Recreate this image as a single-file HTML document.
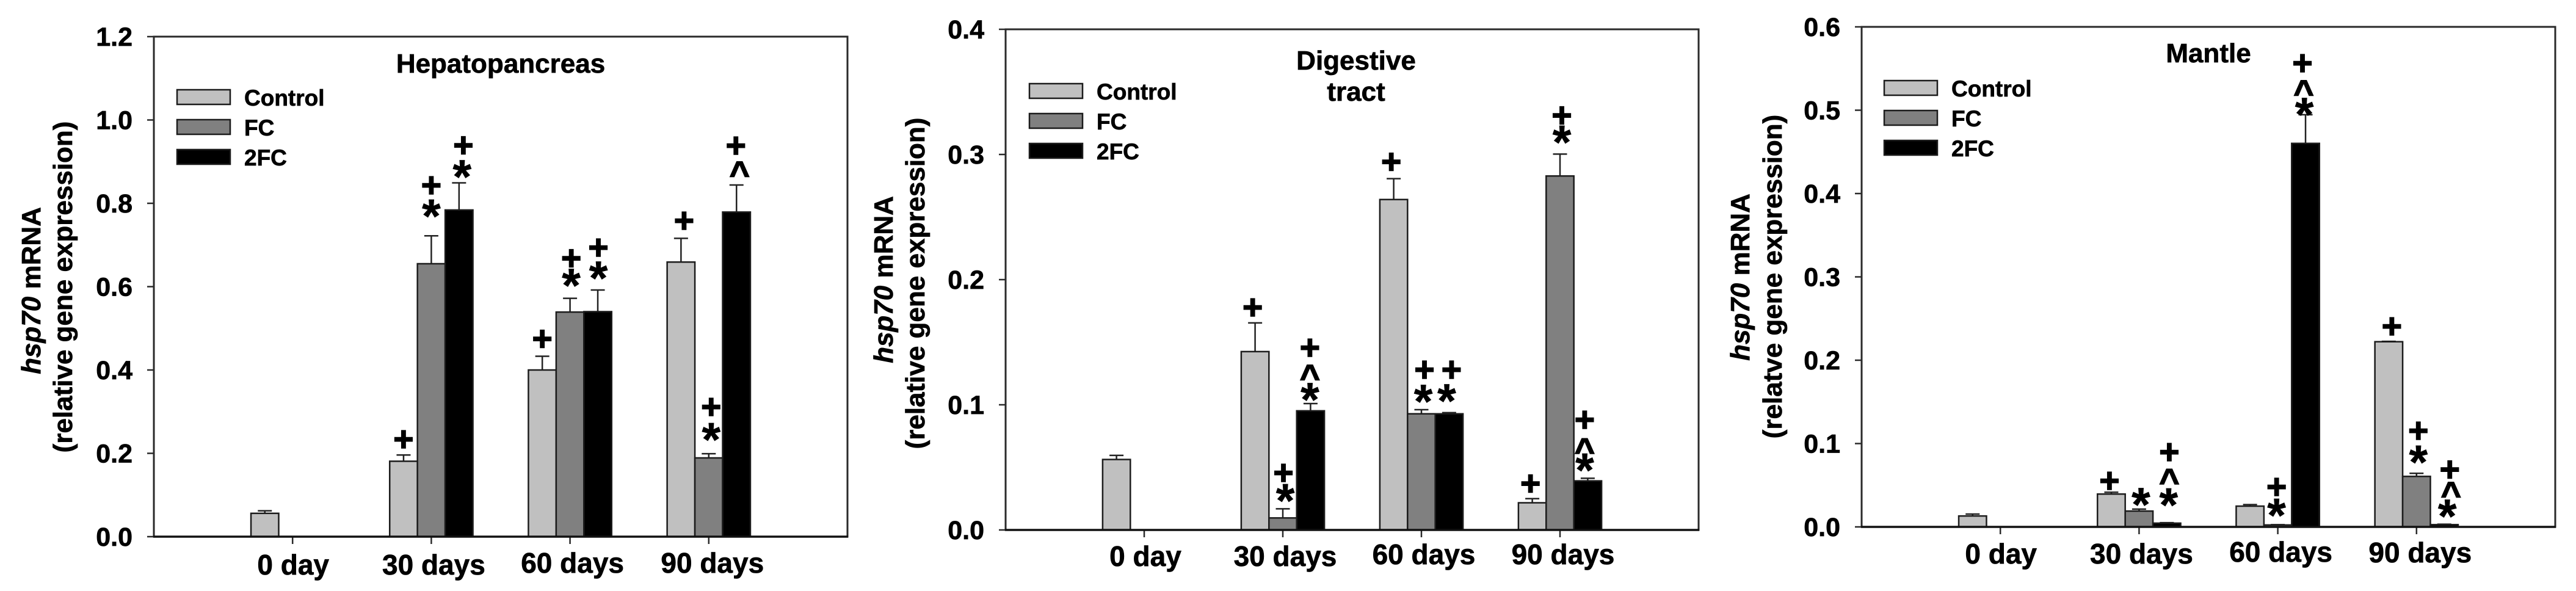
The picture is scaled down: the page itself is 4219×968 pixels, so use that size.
<!DOCTYPE html>
<html lang="en">
<head>
<meta charset="utf-8">
<title>hsp70 mRNA relative gene expression</title>
<style>
html,body{margin:0;padding:0;background:#fff;width:4219px;height:968px;overflow:hidden}
svg{display:block}
text{font-family:"Liberation Sans",Arial,sans-serif;font-weight:700;fill:#000;stroke:#000;stroke-width:0.7px}
</style>
</head>
<body>
<svg id="figure" xmlns="http://www.w3.org/2000/svg" width="4219" height="968" viewBox="0 0 4219 968"></svg>
<script>
const categories = ['0 day', '30 days', '60 days', '90 days'];
const seriesNames = ['Control', 'FC', '2FC'];

const hepatoTicks = ['0.0', '0.2', '0.4', '0.6', '0.8', '1.0', '1.2'];
const hepatoControl = [0.056, 0.181, 0.400, 0.659];
const hepatoFC = [null, 0.655, 0.539, 0.189];
const hepato2FC = [null, 0.784, 0.540, 0.779];
const hepatoControlErr = [0.006, 0.015, 0.033, 0.057];
const hepatoFCErr = [null, 0.067, 0.033, 0.010];
const hepato2FCErr = [null, 0.065, 0.052, 0.065];

const digestiveTicks = ['0.0', '0.1', '0.2', '0.3', '0.4'];
const digestiveControl = [0.0563, 0.1425, 0.264, 0.0217];
const digestiveFC = [null, 0.0096, 0.0928, 0.2828];
const digestive2FC = [null, 0.0952, 0.0928, 0.0392];
const digestiveControlErr = [0.0033, 0.0229, 0.0167, 0.0033];
const digestiveFCErr = [null, 0.0073, 0.0033, 0.0175];
const digestive2FCErr = [null, 0.0058, 0.0009, 0.0021];

const mantleTicks = ['0.0', '0.1', '0.2', '0.3', '0.4', '0.5', '0.6'];
const mantleControl = [0.0131, 0.0394, 0.0249, 0.2222];
const mantleFC = [null, 0.019, 0.0023, 0.0606];
const mantle2FC = [null, 0.0045, 0.4602, 0.0027];
const mantleControlErr = [0.0023, 0.0022, 0.0018, 0.0004];
const mantleFCErr = [null, 0.0023, 0.0004, 0.0037];
const mantle2FCErr = [null, 0.0005, 0.0344, 0.0005];

/* significance symbols: category, series, symbol, nudge right, lift above the error cap */
const hepatoMarks = [
  [1,0,'+',0,26],[1,1,'+',0,83],[1,1,'*',0,44],[1,2,'+',7,62],[1,2,'*',5,22],
  [2,0,'+',0,29],[2,1,'+',2,66],[2,1,'*',2,33],[2,2,'+',1,70],[2,2,'*',1,31],
  [3,0,'+',5,29],[3,1,'+',4,77],[3,1,'*',4,35],[3,2,'+',-1,65],[3,2,'^',5,25]
];
const digestiveMarks = [
  [1,0,'+',-4,26],[1,1,'+',1,59],[1,1,'*',4,25],[1,2,'+',-1,92],[1,2,'^',-1,50],[1,2,'*',-1,18],
  [2,0,'+',-4,28],[2,1,'+',5,66],[2,1,'*',3,25],[2,2,'+',4,71],[2,2,'*',-4,31],
  [3,0,'+',-3,25],[3,1,'+',3,64],[3,1,'*',3,31],[3,2,'+',-5,96],[3,2,'^',-5,52],[3,2,'*',-5,25]
];
const mantleMarks = [
  [1,0,'+',-3,19],[1,1,'*',3,19],[1,2,'+',4,116],[1,2,'^',4,75],[1,2,'*',3,41],
  [2,1,'+',-2,62],[2,1,'*',-2,27],[2,2,'+',-5,85],[2,2,'^',-3,43],[2,2,'*',-2,12],
  [3,0,'+',5,25],[3,1,'+',3,70],[3,1,'*',3,30],[3,2,'+',9,90],[3,2,'^',11,56],[3,2,'*',5,25]
];

const seriesFill = ['#c0c0c0', '#808080', '#000000'];
const NS = 'http://www.w3.org/2000/svg';
const root = document.getElementById('figure');

function node(parent, tag, attrs, content) {
  const el = document.createElementNS(NS, tag);
  for (const k in attrs) el.setAttribute(k, attrs[k]);
  if (content !== undefined) el.textContent = content;
  parent.appendChild(el);
  return el;
}

function drawChart(cfg) {
  const group = node(root, 'g', {});
  
  

  const top = cfg.top, bottom = cfg.bottom, left = cfg.left, right = cfg.right;
  const yMax = parseFloat(cfg.ticks[cfg.ticks.length - 1]);
  const yScale = v => bottom - (v / yMax) * (bottom - top);
  const step = (right - left) / (categories.length + 1);
  const xScale = i => left + step * (i + 1);
  const barW = step * 0.2;

  const frame = node(group, 'rect', {x:left, y:top, width:right-left, height:bottom-top, fill:'#fff', stroke:'#2a2a2a', 'stroke-width':3});
  
  

  cfg.ticks.forEach(function (label) {
    const y = yScale(parseFloat(label));
    const tick = node(group, 'line', {x1:left-11, x2:left, y1:y, y2:y, stroke:'#2a2a2a', 'stroke-width':2.5});
    
    
    const text = node(group, 'text', {x:left-35, y:y+15, 'text-anchor':'end', 'font-size':43}, label);
    
    
  });

  categories.forEach(function (label, i) {
    const x = xScale(i);
    const tick = node(group, 'line', {x1:x, x2:x, y1:bottom, y2:bottom+12, stroke:'#2a2a2a', 'stroke-width':2.5});
    
    
    const text = node(group, 'text', {x:x+cfg.xNudge[i], y:cfg.xBase[i], 'text-anchor':'middle', 'font-size':46}, label);
    
    
  });

  cfg.values.forEach(function (vals, s) {
    vals.forEach(function (v, i) {
      if (v === null) return;
      const cx = xScale(i) + (s - 1) * barW;
      const yTop = yScale(v);
      const yErr = yScale(v + cfg.errors[s][i]);
      const stem = node(group, 'line', {x1:cx, x2:cx, y1:yTop, y2:yErr, stroke:'#222', 'stroke-width':2.5});
      
      
      const cap = node(group, 'line', {x1:cx-11.5, x2:cx+11.5, y1:yErr, y2:yErr, stroke:'#222', 'stroke-width':2.5});
      
      
      const bar = node(group, 'rect', {x:cx-barW/2, y:yTop, width:barW, height:bottom-yTop, fill:seriesFill[s], stroke:'#1c1c1c', 'stroke-width':2.5});
      
      
    });
  });

  const axis = node(group, 'line', {x1:left-1, x2:right+1, y1:bottom, y2:bottom, stroke:'#111', 'stroke-width':3.5});
  
  

  cfg.marks.forEach(function (m) {
    const i = m[0], s = m[1], sym = m[2], nudge = m[3], lift = m[4];
    const v = cfg.values[s][i];
    const cx = xScale(i) + (s - 1) * barW + nudge;
    const cy = yScale(v + cfg.errors[s][i]) - lift;
    const size = sym === '*' ? 78 : 57;
    const rise = sym === '+' ? 0.34 : (sym === '*' ? 0.49 : 0.45);
    const weight = sym === '*' ? 0.7 : 1.6;
    const t = node(group, 'text', {x:cx, y:cy + size*rise, 'text-anchor':'middle', 'font-size':size, style:'stroke-width:' + weight + 'px'}, sym);
    
    
  });

  seriesNames.forEach(function (name, s) {
    const y = cfg.legendY[s];
    const swatch = node(group, 'rect', {x:cfg.legendX, y:y, width:87, height:24, fill:seriesFill[s], stroke:'#1c1c1c', 'stroke-width':2.5});
    
    
    const label = node(group, 'text', {x:cfg.legendX+110, y:y+26, 'font-size':37}, name);
    
    
  });

  cfg.titleLines.forEach(function (line) {
    const t = node(group, 'text', {x:line[1], y:line[2], 'text-anchor':'middle', 'font-size':44}, line[0]);
    
    
  });

  const yt1 = node(group, 'text', {transform:'translate(' + cfg.y1[0] + ',' + cfg.y1[1] + ') rotate(-90)', 'text-anchor':'middle', 'font-size':44});
  
  
  node(yt1, 'tspan', {'font-style':'italic'}, 'hsp70');
  node(yt1, 'tspan', {}, ' mRNA');
  const yt2 = node(group, 'text', {transform:'translate(' + cfg.y2[0] + ',' + cfg.y2[1] + ') rotate(-90)', 'text-anchor':'middle', 'font-size':44}, cfg.y2Text);
  
  
}

drawChart({
  id:'hepatopancreas', left:252, right:1388, top:60, bottom:879,
  ticks:hepatoTicks,
  values:[hepatoControl, hepatoFC, hepato2FC],
  errors:[hepatoControlErr, hepatoFCErr, hepato2FCErr],
  marks:hepatoMarks,
  xNudge:[1,4,4,6], xBase:[941,941,938,938],
  legendX:290, legendY:[147,196,245],
  titleLines:[['Hepatopancreas',820,119]],
  y1:[66,476], y2:[118,470], y2Text:'(relative gene expression)'
});

drawChart({
  id:'digestive-tract', left:1647, right:2782, top:48, bottom:868,
  ticks:digestiveTicks,
  values:[digestiveControl, digestiveFC, digestive2FC],
  errors:[digestiveControlErr, digestiveFCErr, digestive2FCErr],
  marks:digestiveMarks,
  xNudge:[2,4,4,5], xBase:[927,927,924,924],
  legendX:1686, legendY:[137,186,235],
  titleLines:[['Digestive',2221,114],['tract',2221,165]],
  y1:[1462,458], y2:[1514,464], y2Text:'(relative gene expression)'
});

drawChart({
  id:'mantle', left:3049, right:4185, top:44, bottom:863,
  ticks:mantleTicks,
  values:[mantleControl, mantleFC, mantle2FC],
  errors:[mantleControlErr, mantleFCErr, mantle2FCErr],
  marks:mantleMarks,
  xNudge:[1,4,5,6], xBase:[923,923,920,921],
  legendX:3086, legendY:[132,181,230],
  titleLines:[['Mantle',3617,102]],
  y1:[2865,454], y2:[2918,453], y2Text:'(relatve gene expression)'
});
</script>
</body>
</html>
